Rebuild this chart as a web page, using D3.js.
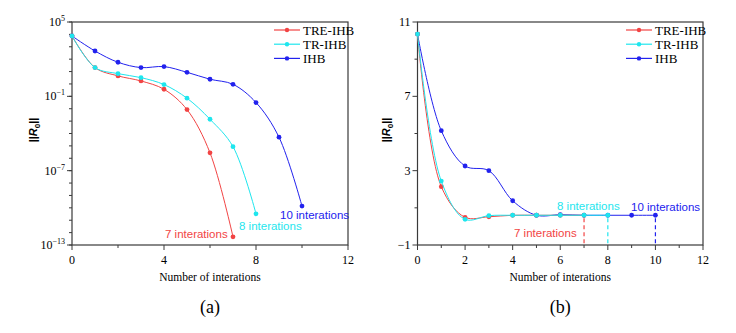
<!DOCTYPE html>
<html>
<head>
<meta charset="utf-8">
<script src="https://cdn.jsdelivr.net/npm/d3@7"></script>
<style>
body { margin: 0; background: #fff; }
svg { display: block; }
</style>
</head>
<body>
<div id="canvas"></div>
<script>
// ----------------------------------------------------------
// DATA -----------------------------------------------------
// ----------------------------------------------------------
var series_names = ["TRE-IHB", "TR-IHB", "IHB"];
var series_colors = ["#f24444", "#1ee6ee", "#2222ee"];

// panel (a) - log10 of ||R0|| per iteration
var a_tre = [3.87, 1.32, 0.65, 0.24, -0.43, -2.07, -5.56, -12.34];
var a_tr = [3.87, 1.32, 0.83, 0.51, -0.05, -1.15, -2.85, -5.06, -10.48];
var a_ihb = [3.87, 2.66, 1.75, 1.32, 1.40, 0.94, 0.38, -0.03, -1.5, -4.3, -9.86];

// panel (b) - ||R0|| per iteration
var b_tre = [10.35, 2.14, 0.49, 0.52, 0.6, 0.6, 0.6, 0.6];
var b_tr = [10.35, 2.44, 0.38, 0.58, 0.6, 0.6, 0.6, 0.6, 0.6];
var b_ihb = [10.35, 5.15, 3.25, 3.0, 1.38, 0.6, 0.63, 0.6, 0.6, 0.6, 0.6];

var x_ticks_a = [0, 4, 8, 12];
var y_ticks_a = [5, -1, -7, -13];
var x_ticks_b = [0, 2, 4, 6, 8, 10, 12];
var y_ticks_b = [-1, 3, 7, 11];

var end_labels = ["7 interations", "8 interations", "10 interations"];

// ----------------------------------------------------------
// STRUCTURE ------------------------------------------------
// ----------------------------------------------------------
var container = d3.select("#canvas").append("svg")
.attr("width", 736)
.attr("height", 333)
.style("background-color", "#fff");

var serif = "'Liberation Serif', 'Times New Roman', serif";
var sans = "'Liberation Sans', Arial, sans-serif";
var axis_color = "#3a3a3a";

// superscript helper for 10^n labels
function powLabel(sel, n) {
  sel.append("tspan").text("10");
  sel.append("tspan")
  .attr("dy", -5)
  .attr("font-size", 8)
  .text(n < 0 ? "\u2212" + Math.abs(n) : n);
}

function drawPanel(cfg) {
  var g = container.append("g").attr("class", "panel_" + cfg.name);
  var x = d3.scaleLinear().domain([0, 12]).range([cfg.left, cfg.right]);
  var y = d3.scaleLinear().domain(cfg.ydomain).range([245, 22]);

  // frame
  g.append("rect")
  .attr("x", cfg.left).attr("y", 22)
  .attr("width", cfg.right - cfg.left).attr("height", 223)
  .attr("fill", "none").attr("stroke", axis_color).attr("stroke-width", 1.2);

  // x ticks
  var xt = g.append("g").attr("transform", "translate(0,245)");
  xt.selectAll("line.minor").data(cfg.xminor).enter().append("line")
  .attr("x1", (d) => x(d)).attr("x2", (d) => x(d))
  .attr("y1", 0).attr("y2", 3).attr("stroke", axis_color);
  xt.selectAll("line.major").data(cfg.xticks).enter().append("line")
  .attr("x1", (d) => x(d)).attr("x2", (d) => x(d))
  .attr("y1", 0).attr("y2", 5).attr("stroke", axis_color);
  xt.selectAll("text").data(cfg.xticks).enter().append("text")
  .attr("x", (d) => x(d)).attr("y", 19)
  .attr("text-anchor", "middle")
  .attr("font-family", serif).attr("font-size", 12)
  .text((d) => d);

  // y ticks
  var yt = g.append("g").attr("transform", `translate(${cfg.left},0)`);
  yt.selectAll("line.minor").data(cfg.yminor).enter().append("line")
  .attr("x1", -3).attr("x2", 0)
  .attr("y1", (d) => y(d)).attr("y2", (d) => y(d)).attr("stroke", axis_color);
  yt.selectAll("line.major").data(cfg.yticks).enter().append("line")
  .attr("x1", -5).attr("x2", 0)
  .attr("y1", (d) => y(d)).attr("y2", (d) => y(d)).attr("stroke", axis_color);
  yt.selectAll("text").data(cfg.yticks).enter().append("text")
  .attr("x", -7).attr("y", (d) => y(d) + 4)
  .attr("text-anchor", "end")
  .attr("font-family", serif).attr("font-size", 12)
  .each(function (d) {
    var t = d3.select(this);
    if (cfg.log) powLabel(t, d);
    else t.text(d < 0 ? "\u2212" + Math.abs(d) : d);
  });

  // axis titles
  g.append("text")
  .attr("x", (cfg.left + cfg.right) / 2).attr("y", 281)
  .attr("text-anchor", "middle")
  .attr("font-family", serif).attr("font-size", 11.5)
  .text("Number of interations");

  var yl = g.append("text")
  .attr("transform", `translate(${cfg.ylabel_x},130) rotate(-90)`)
  .attr("text-anchor", "middle")
  .attr("font-family", sans).attr("font-size", 11).attr("font-weight", "bold");
  yl.append("tspan").text("||");
  yl.append("tspan").attr("font-style", "italic").text("R");
  yl.append("tspan").attr("font-size", 8).attr("dy", 3).text("0");
  yl.append("tspan").attr("dy", -3).text("||");

  g.append("text")
  .attr("x", (cfg.left + cfg.right) / 2).attr("y", 313)
  .attr("text-anchor", "middle")
  .attr("font-family", serif).attr("font-size", 18)
  .text(cfg.caption);

  // lines
  var line = d3.line()
  .x((d, i) => x(i))
  .y((d) => y(d))
  .curve(d3.curveCatmullRom.alpha(0.5));

  // draw order: IHB, TR-IHB, TRE-IHB on top
  [2, 0, 1].forEach(function (k) {
    var vals = cfg.series[k];
    var c = series_colors[k];
    g.append("path").datum(vals)
    .attr("d", line)
    .attr("fill", "none").attr("stroke", c).attr("stroke-width", 1);
    g.selectAll(null).data(vals).enter().append("circle")
    .attr("cx", (d, i) => x(i)).attr("cy", (d) => y(d))
    .attr("r", 2.4).attr("fill", c);
    if (cfg.dashed) {
      var last = vals.length - 1;
      g.append("line")
      .attr("x1", x(last)).attr("x2", x(last))
      .attr("y1", y(vals[last]) + 3).attr("y2", 245)
      .attr("stroke", c).attr("stroke-width", 1.2)
      .attr("stroke-dasharray", "4,3");
    }
  });

  // end labels
  cfg.label_pos.forEach(function (p, k) {
    g.append("text")
    .attr("x", p[0]).attr("y", p[1])
    .attr("font-family", sans).attr("font-size", 11.5)
    .attr("fill", series_colors[k])
    .text(end_labels[k]);
  });

  // legend
  var lg = g.append("g").attr("transform", `translate(${cfg.legend_x},30)`);
  series_names.forEach(function (n, k) {
    var row = lg.append("g").attr("transform", `translate(0,${k * 14.2})`);
    row.append("line").attr("x1", 0).attr("x2", 26).attr("y1", 0).attr("y2", 0)
    .attr("stroke", series_colors[k]).attr("stroke-width", 1.2);
    row.append("circle").attr("cx", 13).attr("cy", 0).attr("r", 2.2).attr("fill", series_colors[k]);
    row.append("text").attr("x", 29).attr("y", 4.5)
    .attr("font-family", serif).attr("font-size", 13)
    .text(n);
  });
}

// ----------------------------------------------------------
// GFX ------------------------------------------------------
// ----------------------------------------------------------
drawPanel({
  name: "a",
  left: 72, right: 348,
  ydomain: [-13, 5],
  log: true,
  xticks: x_ticks_a, xminor: [2, 6, 10],
  yticks: y_ticks_a, yminor: d3.range(-13, 6),
  series: [a_tre, a_tr, a_ihb],
  dashed: false,
  label_pos: [[165, 238], [239, 230], [280, 219]],
  legend_x: 274,
  ylabel_x: 37,
  caption: "(a)"
});

drawPanel({
  name: "b",
  left: 417.5, right: 703,
  ydomain: [-1, 11],
  log: false,
  xticks: x_ticks_b, xminor: [1, 3, 5, 7, 9, 11],
  yticks: y_ticks_b, yminor: [1, 5, 9],
  series: [b_tre, b_tr, b_ihb],
  dashed: true,
  label_pos: [[514, 237], [557, 210], [631, 211]],
  legend_x: 626,
  ylabel_x: 390,
  caption: "(b)"
});
</script>
</body>
</html>
